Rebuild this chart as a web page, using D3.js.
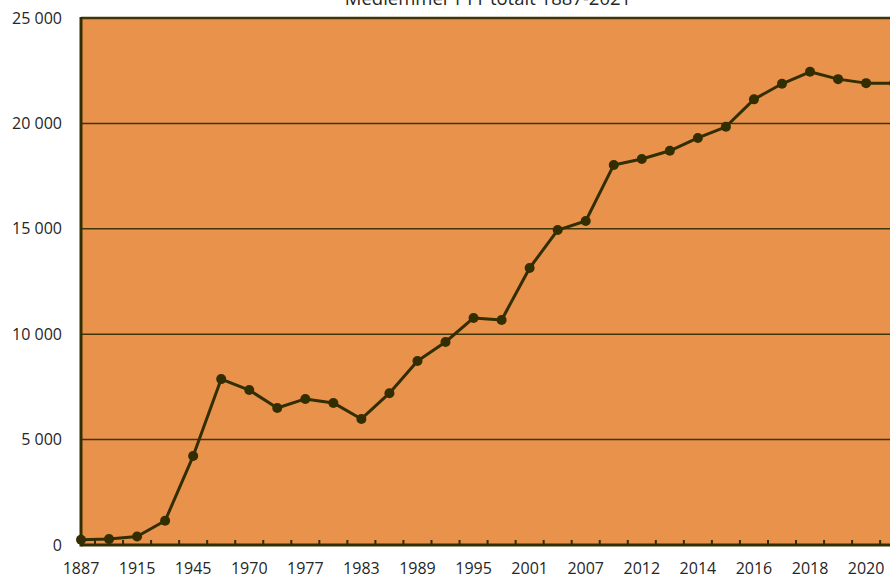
<!DOCTYPE html>
<html>
<head>
<meta charset="utf-8">
<script src="https://cdn.jsdelivr.net/npm/d3@7"></script>
<style>
  body { margin: 0; background: #fff; }
  svg { display: block; font-family: "Open Sans", "Noto Sans", sans-serif; }
</style>
</head>
<body>
<svg id="chart" width="890" height="577"></svg>
<script>
// members of TT, years as categories (every second label is shown)
const years = ['1887', '1900', '1915', '1930', '1945', '1960', '1970', '1975', '1977', '1980',
    '1983', '1986', '1989', '1992', '1995', '1998', '2001', '2004', '2007', '2010',
    '2012', '2013', '2014', '2015', '2016', '2017', '2018', '2019', '2020', '2021'];
const members = [250, 280, 400, 1150, 4220, 7870, 7350, 6500, 6930, 6740,
    5980, 7200, 8730, 9630, 10770, 10670, 13140, 14940, 15370, 18030,
    18310, 18700, 19310, 19840, 21140, 21880, 22450, 22100, 21910, 21900];
const yTicks = [0, 5000, 10000, 15000, 20000, 25000];
const title = 'Medlemmer i TT totalt 1887-2021';

const svg = d3.select('#chart');
const plotLeft = 81, plotTop = 18, plotBottom = 545, step = 28.04;
const plotRight = plotLeft + step * (years.length - 1);

const x = d3.scalePoint()
    .domain(years)
    .range([plotLeft, plotRight]);
const y = d3.scaleLinear()
    .domain([0, 25000])
    .range([plotBottom, plotTop]);

// plot background
svg.append('rect')
    .attr('x', plotLeft)
    .attr('y', plotTop)
    .attr('width', plotRight + 14 - plotLeft)
    .attr('height', plotBottom - plotTop)
    .attr('fill', '#E8924B');

// gridlines
svg.append('g')
    .selectAll('line')
    .data(yTicks.filter(d => d > 0))
    .join('line')
    .attr('x1', plotLeft)
    .attr('x2', plotRight + 14)
    .attr('y1', d => y(d))
    .attr('y2', d => y(d))
    .attr('stroke', '#3f3508')
    .attr('stroke-width', d => d === 25000 ? 2.5 : 1.5);

// y axis labels
const fmt = d => d3.format(',')(d).replace(',', ' ');
svg.append('g')
    .selectAll('text')
    .data(yTicks)
    .join('text')
    .attr('x', 62)
    .attr('y', d => y(d))
    .attr('dy', '0.35em')
    .attr('text-anchor', 'end')
    .attr('font-size', 16)
    .attr('fill', '#262626')
    .text(fmt);

// x tick marks between categories
const tickPos = d3.range(years.length).map(i => x(years[i]) + step / 2);
svg.append('g')
    .selectAll('line')
    .data(tickPos)
    .join('line')
    .attr('x1', d => d)
    .attr('x2', d => d)
    .attr('y1', plotBottom - 5)
    .attr('y2', plotBottom)
    .attr('stroke', '#332e00')
    .attr('stroke-width', 2);

// axis lines
svg.append('line')
    .attr('x1', plotLeft).attr('x2', plotLeft)
    .attr('y1', plotTop - 1).attr('y2', plotBottom + 1.5)
    .attr('stroke', '#332e00')
    .attr('stroke-width', 3);
svg.append('line')
    .attr('x1', plotLeft).attr('x2', plotRight + 14)
    .attr('y1', plotBottom).attr('y2', plotBottom)
    .attr('stroke', '#332e00')
    .attr('stroke-width', 3);

// x labels
svg.append('g')
    .selectAll('text')
    .data(years.filter((d, i) => i % 2 === 0))
    .join('text')
    .attr('x', d => x(d))
    .attr('y', 574)
    .attr('text-anchor', 'middle')
    .attr('font-size', 16)
    .attr('fill', '#262626')
    .text(d => d);

// line + markers
const line = d3.line()
    .x((d, i) => x(years[i]))
    .y(d => y(d));
svg.append('path')
    .attr('d', line(members))
    .attr('fill', 'none')
    .attr('stroke', '#332e00')
    .attr('stroke-width', 3)
    .attr('stroke-linejoin', 'round');

svg.append('g')
    .selectAll('circle')
    .data(members)
    .join('circle')
    .attr('cx', (d, i) => x(years[i]))
    .attr('cy', d => y(d))
    .attr('r', 5)
    .attr('fill', '#332e00');

// title (cut off at the top like the source)
svg.append('text')
    .attr('x', 488)
    .attr('y', 5)
    .attr('text-anchor', 'middle')
    .attr('font-size', 18.5)
    .attr('fill', '#262626')
    .text(title);
</script>
</body>
</html>
